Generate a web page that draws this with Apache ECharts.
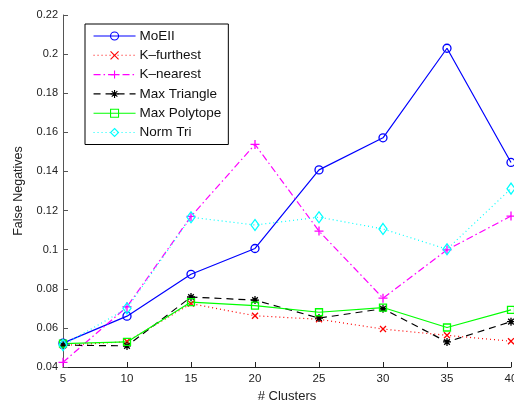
<!DOCTYPE html>
<html>
<head>
<meta charset="utf-8">
<script src="https://cdn.jsdelivr.net/npm/echarts@6/dist/echarts.min.js"></script>
<style>
html,body{margin:0;padding:0;background:#fff;}
#chart{width:514px;height:402px;}
</style>
</head>
<body>
<div id="chart"></div>
<script>
var clusters = [5, 10, 15, 20, 25, 30, 35, 40];
var moEII = [0.0522, 0.0660, 0.0874, 0.1006, 0.1408, 0.1572, 0.2030, 0.1446];
var kFurthest = [0.0510, 0.0530, 0.0724, 0.0662, 0.0644, 0.0594, 0.0562, 0.0532];
var kNearest = [0.0424, 0.0708, 0.1170, 0.1538, 0.1095, 0.0752, 0.0999, 0.1172];
var maxTriangle = [0.0512, 0.0508, 0.0758, 0.0742, 0.0650, 0.0698, 0.0528, 0.0632];
var maxPolytope = [0.0520, 0.0528, 0.0732, 0.0714, 0.0680, 0.0704, 0.0602, 0.0692];
var normTri = [0.0512, 0.0700, 0.1166, 0.1126, 0.1166, 0.1106, 0.1002, 0.1312];
var seriesNames = ['MoEII', 'K\u2013furthest', 'K\u2013nearest', 'Max Triangle', 'Max Polytope', 'Norm Tri'];
var yTicks = [0.04, 0.06, 0.08, 0.1, 0.12, 0.14, 0.16, 0.18, 0.2, 0.22];
var xTicks = [5, 10, 15, 20, 25, 30, 35, 40];

function pairs(vals) {
  return clusters.map(function (c, i) { return [c, vals[i]]; });
}

var xPath = 'path://M0 0L10 10M10 0L0 10';
var plusPath = 'path://M5 0L5 10M0 5L10 5';
var starPath = 'path://M5 0L5 10M0 5L10 5M1.5 1.5L8.5 8.5M8.5 1.5L1.5 8.5';

function mk(name, vals, color, dash, symbol, size, lw) {
  return {
    name: name,
    type: 'line',
    data: pairs(vals),
    symbol: symbol,
    symbolSize: size,
    showAllSymbol: true,
    animation: false,
    lineStyle: { color: color, width: lw || 1.2, type: dash },
    itemStyle: { color: 'rgba(0,0,0,0)', borderColor: color, borderWidth: 1.3 },
    emphasis: { disabled: true }
  };
}

var chart = echarts.init(document.getElementById('chart'), null, { renderer: 'canvas' });
var font = 'Liberation Sans, Arial, Helvetica, sans-serif';
chart.setOption({
  backgroundColor: '#fff',
  animation: false,
  textStyle: { fontFamily: font },
  grid: { left: 63, right: 3, top: 15, bottom: 35, containLabel: false, outerBoundsMode: 'none' },
  legend: {
    orient: 'vertical',
    left: 85,
    top: 24,
    itemWidth: 42,
    itemHeight: 10,
    itemGap: 5.3,
    padding: [5, 7, 5, 8],
    backgroundColor: '#fff',
    borderColor: '#000',
    borderWidth: 1,
    borderRadius: 0,
    lineStyle: { width: 1.1 },
    itemStyle: { borderWidth: 1.1 },
    data: seriesNames,
    textStyle: { fontFamily: font, fontSize: 13.5, lineHeight: 14, color: '#111', padding: [0, 0, 0, -1] }
  },
  xAxis: {
    type: 'value',
    min: 5,
    max: 40,
    interval: 5,
    name: '# Clusters',
    nameLocation: 'middle',
    nameGap: 22,
    nameTextStyle: { fontFamily: font, fontSize: 13, color: '#222' },
    axisLine: { lineStyle: { color: '#222', width: 1 } },
    axisTick: { inside: true, length: 5, lineStyle: { color: '#222' } },
    axisLabel: { margin: 6, fontSize: 11.5, color: '#222', fontFamily: font,
      formatter: function (v) { return xTicks.indexOf(v) >= 0 ? String(v) : ''; } },
    splitLine: { show: false }
  },
  yAxis: {
    type: 'value',
    min: 0.04,
    max: 0.22,
    interval: 0.02,
    name: 'False Negatives',
    nameLocation: 'middle',
    nameGap: 38,
    nameTextStyle: { fontFamily: font, fontSize: 12.5, color: '#222' },
    axisLine: { show: true, lineStyle: { color: '#555', width: 1 } },
    axisTick: { show: true, inside: true, length: 5, lineStyle: { color: '#555' } },
    axisLabel: { margin: 5, fontSize: 11, color: '#222', fontFamily: font,
      formatter: function (v) {
        var r = parseFloat(v.toFixed(2));
        for (var i = 0; i < yTicks.length; i++) { if (Math.abs(yTicks[i] - r) < 1e-9) return String(yTicks[i]); }
        return '';
      } },
    splitLine: { show: false }
  },
  series: [
    mk(seriesNames[0], moEII, '#0000ff', 'solid', 'circle', 8),
    mk(seriesNames[1], kFurthest, '#ff0000', [1, 3], xPath, 6),
    mk(seriesNames[2], kNearest, '#ff00ff', [7, 3, 1.5, 3], plusPath, 9),
    mk(seriesNames[3], maxTriangle, '#000000', [7, 5], starPath, 8),
    mk(seriesNames[4], maxPolytope, '#00ff00', 'solid', 'rect', 7),
    mk(seriesNames[5], normTri, '#00ffff', [1, 3], 'diamond', [8, 11])
  ]
});
</script>
</body>
</html>
